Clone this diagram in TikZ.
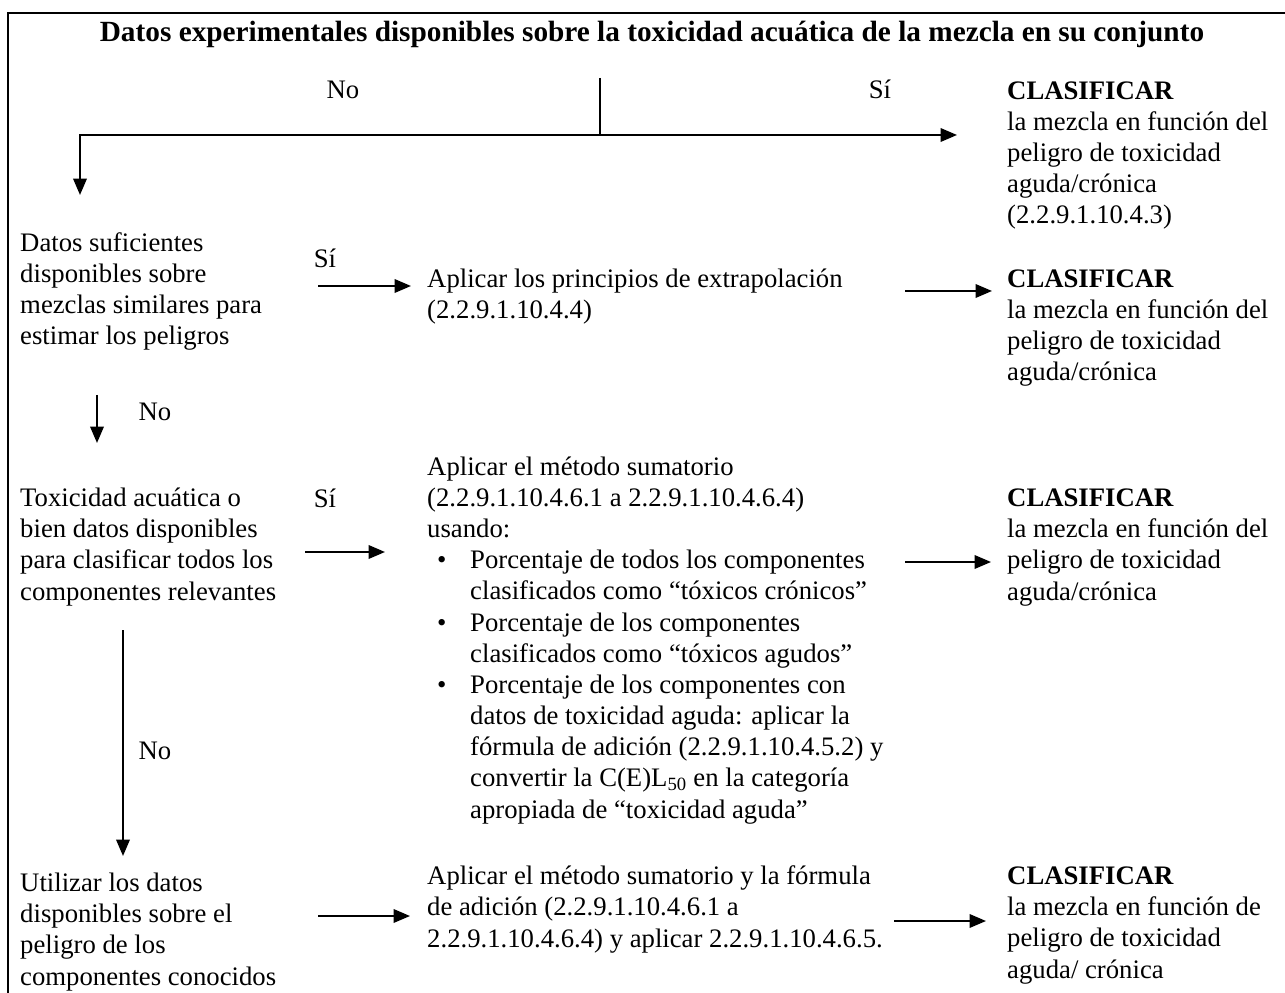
\documentclass[tikz,border=0pt]{standalone}
\usepackage{fontspec}
\setmainfont{Liberation Serif}
\usetikzlibrary{arrows.meta,positioning}

\tikzset{
  txt/.style={anchor=base west, inner sep=0pt, align=left,
    font=\fontsize{22.8}{26.6}\selectfont},
  lbl/.style={anchor=base, inner sep=0pt, font=\fontsize{22.8}{26.6}\selectfont},
  head/.style={anchor=base, inner sep=0pt, font=\fontsize{25}{29}\selectfont\bfseries},
  flow/.style={line width=1.3pt},
  arr/.style={line width=1.7pt, -{Triangle[length=14pt,width=11.5pt]}},
}

\newcommand{\bul}{\makebox[1.29cm][l]{\hspace{0.3cm}\textbullet}}
\newcommand{\ind}{\hspace*{1.29cm}}

\begin{document}
\begin{tikzpicture}[x=0.03cm, y=-0.03cm]
  \useasboundingbox (0,0) rectangle (1285,993);
  % frame
  \draw[line width=2.4pt] (1285,13) -- (8,13) -- (8,993);

  % question 1 (multi-line nodes sit on their last baseline)
  \node[head] (title) at (652,42) {Datos experimentales disponibles sobre la toxicidad acuática de la mezcla en su conjunto};
  \node[lbl] (no1) at (343,99) {No};
  \node[lbl] (si1) at (880,99) {Sí};
  \node[txt] (clas1) at (1007,224) {\textbf{CLASIFICAR}\\la mezcla en función del\\peligro de toxicidad\\aguda/crónica\\(2.2.9.1.10.4.3)};

  % question 2
  \node[txt] (similar) at (20,345) {Datos suficientes\\disponibles sobre\\mezclas similares para\\estimar los peligros};
  \node[lbl] (si2) at (325,268) {Sí};
  \node[txt] (extrap) at (427,319) {Aplicar los principios de extrapolación\\(2.2.9.1.10.4.4)};
  \node[txt] (clas2) at (1007,381) {\textbf{CLASIFICAR}\\la mezcla en función del\\peligro de toxicidad\\aguda/crónica};
  \node[lbl] (no2) at (155,421) {No};

  % question 3
  \node[txt] (compon) at (20,600) {Toxicidad acuática o\\bien datos disponibles\\para clasificar todos los\\componentes relevantes};
  \node[lbl] (si3) at (325,507) {Sí};
  \node[txt] (sumat) at (427,818) {Aplicar el método sumatorio\\(2.2.9.1.10.4.6.1 a 2.2.9.1.10.4.6.4)\\usando:\\
    \bul Porcentaje de todos los componentes\\\ind clasificados como “tóxicos crónicos”\\
    \bul Porcentaje de los componentes\\\ind clasificados como “tóxicos agudos”\\
    \bul Porcentaje de los componentes con\\\ind datos de toxicidad aguda: aplicar la\\\ind fórmula de adición (2.2.9.1.10.4.5.2) y\\\ind convertir la C(E)L\textsubscript{50} en la categoría\\\ind apropiada de “toxicidad aguda”};
  \node[txt] (clas3) at (1007,600) {\textbf{CLASIFICAR}\\la mezcla en función del\\peligro de toxicidad\\aguda/crónica};
  \node[lbl] (no3) at (155,759) {No};

  % known components
  \node[txt] (conoc) at (20,985) {Utilizar los datos\\disponibles sobre el\\peligro de los\\componentes conocidos};
  \node[txt] (adic) at (427,947) {Aplicar el método sumatorio y la fórmula\\de adición (2.2.9.1.10.4.6.1 a\\2.2.9.1.10.4.6.4) y aplicar 2.2.9.1.10.4.6.5.};
  \node[txt] (clas4) at (1007,978) {\textbf{CLASIFICAR}\\la mezcla en función de\\peligro de toxicidad\\aguda/ crónica};

  % connectors
  \coordinate (q1) at (600,78);
  \coordinate (split) at (600,135);
  \coordinate (toclas1) at (957,135);
  \coordinate (tosimilar) at (80,195);
  \draw[flow] (q1) -- (split);
  \draw[arr] (split) -- (toclas1);
  \draw[arr] (split) -| (tosimilar);

  \coordinate (s2a) at (318,286);
  \coordinate (s2b) at (411,286);
  \draw[arr] (s2a) -- (s2b);
  \coordinate (e2a) at (905,291);
  \coordinate (e2b) at (992,291);
  \draw[arr] (e2a) -- (e2b);
  \coordinate (n2a) at (97,395);
  \coordinate (n2b) at (97,443);
  \draw[arr] (n2a) -- (n2b);

  \coordinate (s3a) at (305,552);
  \coordinate (s3b) at (385,552);
  \draw[arr] (s3a) -- (s3b);
  \coordinate (e3a) at (905,562);
  \coordinate (e3b) at (991,562);
  \draw[arr] (e3a) -- (e3b);
  \coordinate (n3a) at (123,630);
  \coordinate (n3b) at (123,856);
  \draw[arr] (n3a) -- (n3b);

  \coordinate (s4a) at (318,916);
  \coordinate (s4b) at (410,916);
  \draw[arr] (s4a) -- (s4b);
  \coordinate (e4a) at (894,921);
  \coordinate (e4b) at (986,921);
  \draw[arr] (e4a) -- (e4b);
\end{tikzpicture}
\end{document}
